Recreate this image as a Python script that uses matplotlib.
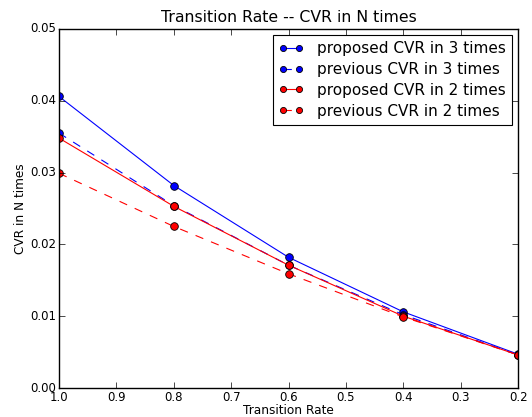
import matplotlib
matplotlib.use("Agg")
import matplotlib.pyplot as plt

plt.style.use("classic")

rates = [1.0, 0.8, 0.6, 0.4, 0.2]
proposed_3 = [0.0406, 0.0282, 0.0182, 0.0106, 0.0047]
previous_3 = [0.0355, 0.0254, 0.0171, 0.0102, 0.0046]
proposed_2 = [0.0348, 0.0253, 0.0171, 0.0100, 0.0046]
previous_2 = [0.0299, 0.0225, 0.0159, 0.0099, 0.0046]

series = [
    (proposed_3, "b", "-", "proposed CVR in 3 times"),
    (previous_3, "b", "--", "previous CVR in 3 times"),
    (proposed_2, "r", "-", "proposed CVR in 2 times"),
    (previous_2, "r", "--", "previous CVR in 2 times"),
]

fig = plt.figure(figsize=(5.32, 4.17), dpi=100, facecolor="white")
ax = fig.add_axes([0.111, 0.0695, 0.863, 0.861])

for vals, col, ls, lab in series:
    ax.plot(rates, vals, color=col, ls=ls, lw=0.8, marker="o", mfc=col,
            mew=0.6, ms=5.5, label=lab)

ax.set_xlim(1.0, 0.2)
ax.set_ylim(0.0, 0.05)
ax.tick_params(labelsize=8.5, pad=2)
ax.set_title("Transition Rate -- CVR in N times", fontsize=11.3)
ax.set_xlabel("Transition Rate", fontsize=8.7, labelpad=0)
ax.set_ylabel("CVR in N times", fontsize=8.7, labelpad=2)
leg = ax.legend(loc="upper right", fontsize=11, numpoints=2, handlelength=1.6,
                markerscale=0.8, handletextpad=0.9, borderaxespad=0.4,
                labelspacing=0.38)
leg.get_frame().set_linewidth(0.8)

fig.savefig("out.png", dpi=100, facecolor="white")
